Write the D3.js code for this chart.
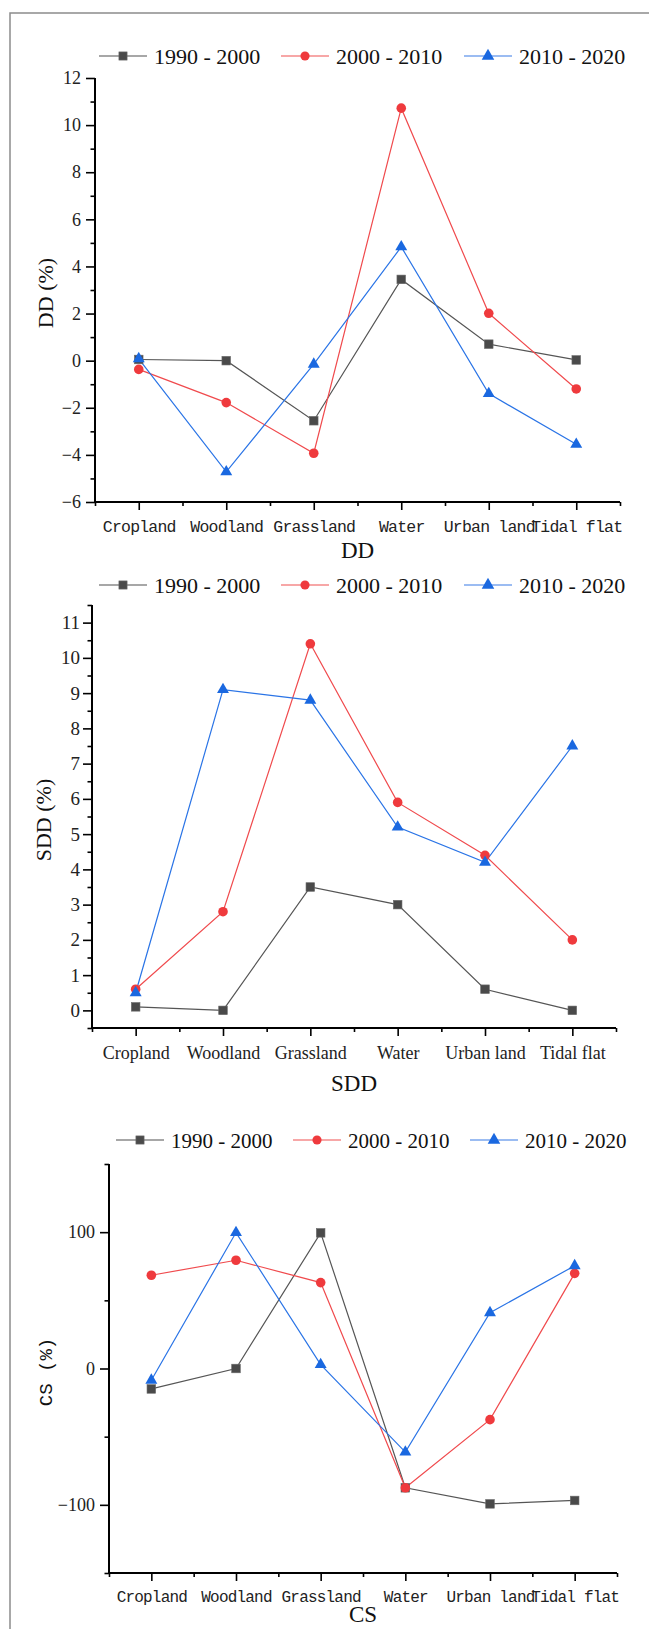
<!DOCTYPE html>
<html>
<head>
<meta charset="utf-8">
<script src="https://cdn.jsdelivr.net/npm/d3@7/dist/d3.min.js"></script>
<style>
  html, body { margin: 0; padding: 0; background: #fff; }
  svg { display: block; }
</style>
</head>
<body>
<svg id="chart" width="649" height="1629"></svg>
<script>
// ---------------- DATA ----------------
const categories = ["Cropland", "Woodland", "Grassland", "Water", "Urban land", "Tidal flat"];
const seriesNames = ["1990 - 2000", "2000 - 2010", "2010 - 2020"];

// DD (%)
const dd1990 = [0.05, 0.0, -2.55, 3.45, 0.7, 0.03];
const dd2000 = [-0.37, -1.78, -3.93, 10.72, 2.01, -1.2];
const dd2010 = [0.08, -4.72, -0.15, 4.83, -1.4, -3.55];

// SDD (%)
const sdd1990 = [0.1, 0.0, 3.5, 3.0, 0.6, 0.0];
const sdd2000 = [0.6, 2.8, 10.4, 5.9, 4.4, 2.0];
const sdd2010 = [0.5, 9.1, 8.8, 5.2, 4.2, 7.5];

// CS (%)
const cs1990 = [-15, 0, 99.5, -87.5, -99.3, -96.8];
const cs2000 = [68.4, 79.4, 63, -87.5, -37.5, 69.8];
const cs2010 = [-8.6, 99.7, 2.9, -61.3, 40.9, 75.4];

// tick values
const ddTicks = [-6, -4, -2, 0, 2, 4, 6, 8, 10, 12];
const ddMinor = [-5, -3, -1, 1, 3, 5, 7, 9, 11];
const sddTicks = [0, 1, 2, 3, 4, 5, 6, 7, 8, 9, 10, 11];
const sddMinor = [-0.5, 0.5, 1.5, 2.5, 3.5, 4.5, 5.5, 6.5, 7.5, 8.5, 9.5, 10.5, 11.5];
const csTicks = [-100, 0, 100];
const csMinor = [-150, -50, 50, 150];

// ---------------- STYLE ----------------
const colors = ["#4a4a4a", "#ef3a3d", "#1a68e0"];
const lineColors = ["#555555", "#f04a4d", "#2a74e6"];
const legendLineColors = ["#8a8a8a", "#f58a8a", "#7aa6ee"];
const SERIF = "'Liberation Serif', 'Times New Roman', serif";
const MONO = "'Liberation Mono', 'DejaVu Sans Mono', monospace";

const svg = d3.select("#chart");

// outer frame (extends beyond right/bottom edges)
svg.append("rect")
  .attr("x", 10).attr("y", 13)
  .attr("width", 700).attr("height", 1700)
  .attr("fill", "none").attr("stroke", "#8c8c8c").attr("stroke-width", 1.5);

function marker(g, type, cx, cy, color, scale) {
  const s = scale || 1;
  if (type === 0) {
    g.append("rect")
      .attr("x", cx - 4.3 * s).attr("y", cy - 4.3 * s)
      .attr("width", 8.6 * s).attr("height", 8.6 * s)
      .attr("fill", color).attr("stroke", "#6a6a6a").attr("stroke-width", 0.6);
  } else if (type === 1) {
    g.append("circle").attr("cx", cx).attr("cy", cy).attr("r", 4.8 * s).attr("fill", color);
  } else {
    g.append("path")
      .attr("d", d3.symbol().type(d3.symbolTriangle).size(62 * s * s)())
      .attr("transform", `translate(${cx},${cy})`)
      .attr("fill", color);
  }
}

function legend(y, starts, fontSize) {
  const g = svg.append("g");
  seriesNames.forEach((name, i) => {
    const x0 = starts[i];
    g.append("line")
      .attr("x1", x0).attr("x2", x0 + 48).attr("y1", y).attr("y2", y)
      .attr("stroke", legendLineColors[i]).attr("stroke-width", 1.5);
    marker(g, i, x0 + 24, y, colors[i], i === 2 ? 1.05 : 0.95);
    g.append("text")
      .attr("x", x0 + 55).attr("y", y)
      .attr("dy", "0.36em")
      .attr("font-family", SERIF).attr("font-size", fontSize)
      .attr("fill", "#111")
      .text(name);
  });
}

function panel(cfg) {
  const g = svg.append("g");
  const x = d3.scalePoint().domain(categories).range([cfg.x0, cfg.x1]).padding(0.5);
  const xb = d3.scaleLinear().domain([0, categories.length]).range([cfg.x0, cfg.x1]);
  const y = d3.scaleLinear().domain(cfg.domain).range([cfg.yBot, cfg.yTop]);

  // minor x ticks (band boundaries)
  g.append("g")
    .attr("transform", `translate(0,${cfg.yBot})`)
    .call(d3.axisBottom(xb).tickValues(d3.range(0, categories.length + 1)).tickSize(4).tickFormat(""))
    .call(a => a.select(".domain").remove())
    .call(a => a.selectAll("line").attr("stroke", "#000").attr("stroke-width", 1.6));

  // major x ticks + labels
  const xa = g.append("g")
    .attr("transform", `translate(0,${cfg.yBot})`)
    .call(d3.axisBottom(x).tickSize(8).tickSizeOuter(0).tickPadding(cfg.xPad));
  xa.select(".domain").remove();
  xa.selectAll("line").attr("stroke", "#000").attr("stroke-width", 1.6);
  xa.selectAll("text")
    .attr("font-family", cfg.xFont).attr("font-size", cfg.xFontSize)
    .attr("letter-spacing", cfg.xLetter || 0)
    .attr("fill", "#222");

  // minor y ticks
  g.append("g")
    .attr("transform", `translate(${cfg.x0},0)`)
    .call(d3.axisLeft(y).tickValues(cfg.minor).tickSize(4.5).tickFormat(""))
    .call(a => a.select(".domain").remove())
    .call(a => a.selectAll("line").attr("stroke", "#000").attr("stroke-width", 1.6));

  // major y ticks + labels
  const ya = g.append("g")
    .attr("transform", `translate(${cfg.x0},0)`)
    .call(d3.axisLeft(y).tickValues(cfg.ticks).tickSize(9).tickSizeOuter(0).tickPadding(cfg.yPad));
  ya.select(".domain").remove();
  ya.selectAll("line").attr("stroke", "#000").attr("stroke-width", 1.6);
  ya.selectAll("text")
    .attr("font-family", SERIF).attr("font-size", cfg.yFontSize)
    .attr("fill", "#222");

  // axis lines (L shape)
  g.append("path")
    .attr("d", `M${cfg.x0},${cfg.yTop}V${cfg.yBot}H${cfg.x1}`)
    .attr("fill", "none").attr("stroke", "#000").attr("stroke-width", 2);

  // series
  const line = d3.line().x((d, i) => x(categories[i])).y(d => y(d));
  cfg.series.forEach((vals, si) => {
    g.append("path")
      .attr("d", line(vals))
      .attr("fill", "none").attr("stroke", lineColors[si]).attr("stroke-width", 1.2);
  });
  cfg.series.forEach((vals, si) => {
    vals.forEach((v, i) => marker(g, si, x(categories[i]), y(v), colors[si], 1));
  });

  // x title
  g.append("text")
    .attr("x", (cfg.x0 + cfg.x1) / 2).attr("y", cfg.xTitleY)
    .attr("text-anchor", "middle").attr("dy", "0.35em")
    .attr("font-family", SERIF).attr("font-size", 23).attr("fill", "#111")
    .text(cfg.title);

  // y title
  g.append("text")
    .attr("transform", `translate(${cfg.yTitleX},${cfg.yTitleY}) rotate(-90)`)
    .attr("text-anchor", "middle").attr("dy", "0.35em")
    .attr("font-family", cfg.yTitleFont).attr("font-size", cfg.yTitleSize).attr("fill", "#111")
    .attr("xml:space", "preserve")
    .text(cfg.yTitle);
}

// ---------------- PANELS ----------------
legend(56, [99, 281, 464], 22);
panel({
  x0: 95, x1: 620, yTop: 78, yBot: 502, domain: [-6, 12],
  ticks: ddTicks, minor: ddMinor, yFontSize: 18, yPad: 5,
  xFont: MONO, xFontSize: 16.5, xPad: 10, xLetter: -0.8,
  series: [dd1990, dd2000, dd2010],
  title: "DD", xTitleY: 550,
  yTitle: "DD (%)", yTitleX: 45, yTitleY: 293, yTitleFont: SERIF, yTitleSize: 22
});

legend(585, [99, 281, 464], 22);
panel({
  x0: 92, x1: 616, yTop: 605, yBot: 1028, domain: [-0.5, 11.5],
  ticks: sddTicks, minor: sddMinor, yFontSize: 19, yPad: 3,
  xFont: SERIF, xFontSize: 18, xPad: 10,
  series: [sdd1990, sdd2000, sdd2010],
  title: "SDD", xTitleY: 1083,
  yTitle: "SDD (%)", yTitleX: 43, yTitleY: 820, yTitleFont: SERIF, yTitleSize: 22
});

legend(1140, [116, 293, 470], 21);
panel({
  x0: 109, x1: 617, yTop: 1164, yBot: 1573, domain: [-150, 150],
  ticks: csTicks, minor: csMinor, yFontSize: 18, yPad: 5,
  xFont: MONO, xFontSize: 16, xPad: 10, xLetter: -0.8,
  series: [cs1990, cs2000, cs2010],
  title: "CS", xTitleY: 1614,
  yTitle: "CS (%)", yTitleX: 45, yTitleY: 1372, yTitleFont: MONO, yTitleSize: 19
});
</script>
</body>
</html>
